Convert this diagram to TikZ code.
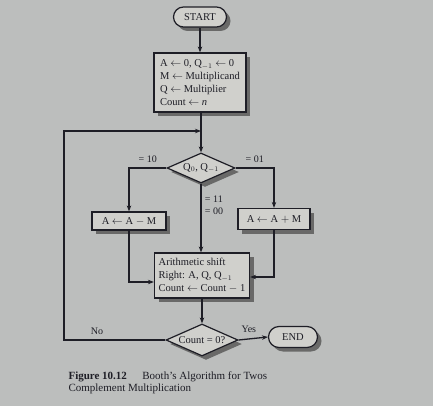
\documentclass[tikz,border=0pt]{standalone}
\usepackage{fontspec}
\setmainfont{Liberation Serif}
\usetikzlibrary{shapes.geometric,shapes.misc,shadows,arrows.meta}
\definecolor{paper}{RGB}{188,190,189}
\definecolor{boxfill}{RGB}{208,208,204}
\definecolor{shade}{RGB}{105,105,104}
\definecolor{ink}{RGB}{30,30,38}
\begin{document}
\begin{tikzpicture}[x=1pt,y=-1pt,
  font=\fontsize{10.5}{13}\selectfont,
  base/.style={draw=ink, line width=1.2pt, fill=boxfill, text=ink,
    drop shadow={shadow xshift=4pt, shadow yshift=-4pt, fill=shade, opacity=1}},
  proc/.style={base, rectangle, inner sep=1pt, align=left},
  term/.style={base, rounded rectangle, inner sep=1pt},
  dec/.style={base, diamond, inner sep=0pt, aspect=2.2},
  conn/.style={draw=ink, line width=1.3pt, -{Stealth[length=6pt,width=4.5pt]}},
  lbl/.style={text=ink, font=\fontsize{10}{12}\selectfont}]
\fill[paper] (0,0) rectangle (433,406);
\useasboundingbox (0,0) rectangle (433,406);

\node[term, minimum width=55pt, minimum height=20pt] (start) at (200,17) {START};
\node[proc, minimum width=92pt, minimum height=59pt] (init) at (200,82.5)
  {A $\leftarrow$ 0, Q$_{-1}$ $\leftarrow$ 0\\ M $\leftarrow$ Multiplicand\\ Q $\leftarrow$ Multiplier\\ Count $\leftarrow$ \textit{n}};
\node[dec, minimum width=68pt, minimum height=30pt] (d1) at (201,168) {Q$_0$, Q$_{-1}$};
\node[proc, minimum width=74pt, minimum height=18pt, align=center] (sub) at (129,221) {A $\leftarrow$ A $-$ M};
\node[proc, minimum width=72pt, minimum height=21pt, align=center] (add) at (274,219) {A $\leftarrow$ A $+$ M};
\node[proc, minimum width=95pt, minimum height=45pt] (shift) at (202,275.5)
  {Arithmetic shift\\ Right: A, Q, Q$_{-1}$\\ Count $\leftarrow$ Count $-$ 1};
\node[dec, minimum width=72pt, minimum height=32pt] (d2) at (202,340) {Count = 0?};
\node[term, minimum width=51pt, minimum height=21pt] (endn) at (293,337) {END};

\coordinate (j) at (201,131);
\coordinate (lc) at (64,131);

\draw[conn] (start.south) -- (start.south |- init.north);
\draw[conn] (init.south -| d1.north) -- (d1.north);
\draw[conn] (d1.west) -| (sub.north) node[lbl, pos=0.25, above=1pt] {= 10};
\draw[conn] (d1.east) -| (add.north) node[lbl, pos=0.25, above=1pt] {= 01};
\draw[conn] (d1.south) -- (shift.north -| d1.south) node[lbl, pos=0.31, right, align=left] {= 11\\= 00};
\draw[conn] (sub.south) |- (shift.west |- 0,282);
\draw[conn] (add.south) |- (shift.east |- 0,277);
\draw[conn] (shift.south) -- (d2.north);
\draw[conn] (d2.west) -| (lc) -- (j);
\draw[conn] (d2.east) -- (endn.west) node[lbl, pos=0.35, above=2pt] {Yes};
\node[lbl, anchor=south] (nolbl) at (97,338) {No};

\node[anchor=base west, text=ink, font=\fontsize{11}{13}\selectfont] (cap1) at (65,379)
  {\textbf{Figure 10.12}\hspace{1.4em}Booth's Algorithm for Twos};
\node[anchor=base west, text=ink, font=\fontsize{11}{13}\selectfont] (cap2) at (65,391)
  {Complement Multiplication};
\end{tikzpicture}
\end{document}
